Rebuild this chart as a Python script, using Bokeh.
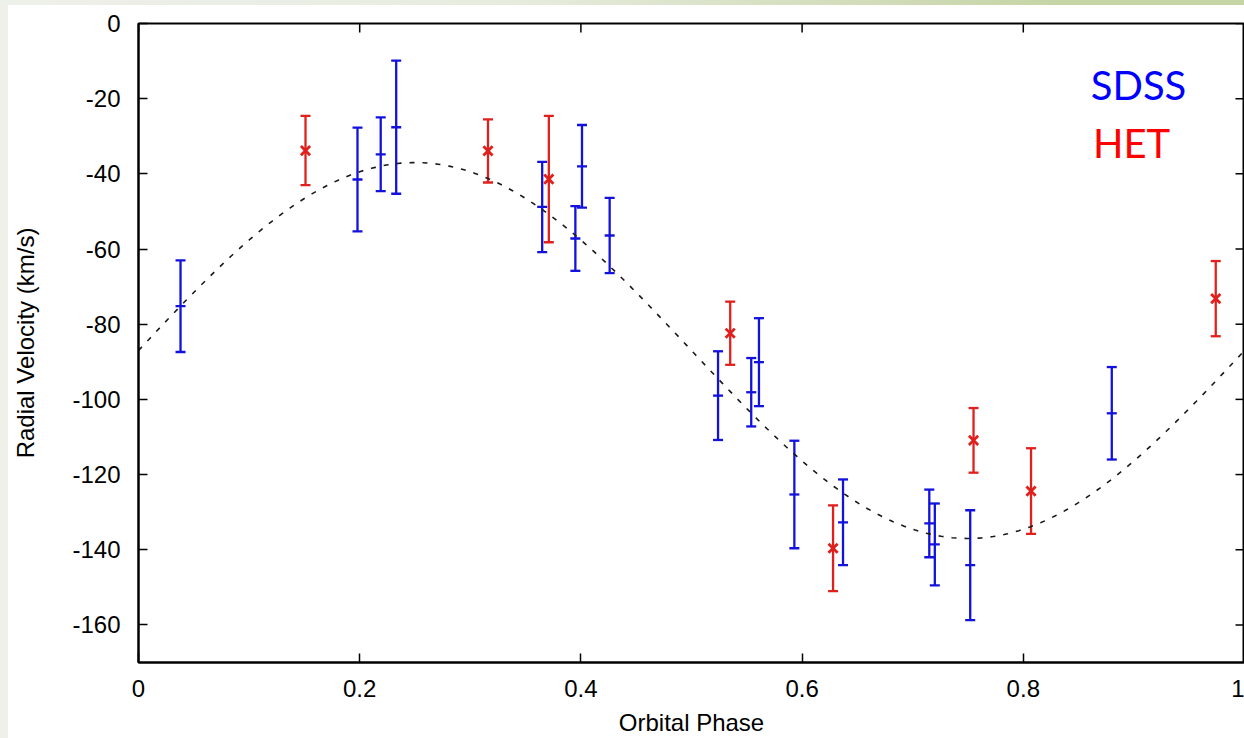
import numpy as np
from bokeh.plotting import figure
from bokeh.models import (ColumnDataSource, Whisker, TeeHead, Range1d, FixedTicker,
                          NumeralTickFormatter, Label, Div)
from bokeh.layouts import column, row
from bokeh.embed import file_html
from bokeh.resources import INLINE

# SDSS radial velocities (orbital phase, km/s, 1-sigma error)
sdss_phase = [0.038, 0.198, 0.219, 0.233, 0.365, 0.395, 0.401, 0.426, 0.524,
              0.554, 0.561, 0.593, 0.637, 0.715, 0.720, 0.752, 0.880]
sdss_rv = [-75.2, -41.5, -34.8, -27.6, -48.8, -57.2, -38.0, -56.4, -99.0,
           -98.1, -90.1, -125.3, -132.7, -133.0, -138.6, -144.1, -103.7]
sdss_err = [12.2, 13.8, 9.8, 17.7, 12.0, 8.6, 11.0, 10.0, 11.8,
            9.1, 11.7, 14.3, 11.4, 9.0, 10.9, 14.6, 12.3]

# HET radial velocities
het_phase = [0.151, 0.316, 0.371, 0.535, 0.628, 0.755, 0.807, 0.974]
het_rv = [-33.8, -33.9, -41.4, -82.4, -139.6, -110.9, -124.4, -73.2]
het_err = [9.2, 8.4, 16.8, 8.4, 11.4, 8.6, 11.4, 10.0]

# Circular-orbit fit: systemic velocity and semi-amplitude (km/s)
gamma = -87.0
k_amp = 50.0

x_ticks = [0, 0.2, 0.4, 0.6, 0.8, 1.0]
y_ticks = [-160, -140, -120, -100, -80, -60, -40, -20, 0]

TICK_FONT = "Liberation Sans"
BLUE = "#1212dc"
RED = "#e0201c"

x_range = Range1d(0, 1)
y_range = Range1d(-170, 0)

p = figure(width=1236, height=733, x_range=x_range, y_range=y_range,
           output_backend="svg", toolbar_location=None,
           min_border_left=130, min_border_right=0, min_border_top=18, min_border_bottom=76)
p.background_fill_color = "white"
p.border_fill_color = "white"
p.outline_line_color = "black"
p.outline_line_width = 2
p.grid.visible = False

for ax in (p.xaxis[0], p.yaxis[0]):
    ax.axis_line_width = 2
    ax.major_tick_in = 9
    ax.major_tick_out = 0
    ax.major_tick_line_width = 1.5
    ax.minor_tick_line_color = None
    ax.major_label_text_font = TICK_FONT
    ax.major_label_text_font_size = "24px"
    ax.major_label_text_color = "black"
    ax.axis_label_text_font = TICK_FONT
    ax.axis_label_text_font_size = "24px"
    ax.axis_label_text_font_style = "normal"
    ax.axis_label_text_color = "black"

p.xaxis.ticker = FixedTicker(ticks=x_ticks)
p.xaxis.formatter = NumeralTickFormatter(format="0.[0]")
p.xaxis.axis_label = "Orbital Phase"
p.xaxis.major_label_standoff = 17
p.xaxis.axis_label_standoff = 9
p.xaxis.axis_label_text_line_height = 0.8

p.yaxis.ticker = FixedTicker(ticks=y_ticks)
p.yaxis.formatter = NumeralTickFormatter(format="0")
p.yaxis.axis_label = "Radial Velocity (km/s)"
p.yaxis.major_label_standoff = 18
p.yaxis.axis_label_standoff = 30

# inward ticks along the top and right edges of the box
p.ray(x=[x_range.end] * len(y_ticks), y=y_ticks, length=9, length_units="screen",
      angle=np.pi, line_color="black", line_width=1.5)
p.ray(x=x_ticks, y=[y_range.end] * len(x_ticks), length=9, length_units="screen",
      angle=-np.pi / 2, line_color="black", line_width=1.5)

# model curve
phase_grid = np.linspace(0, 1, 300)
p.line(phase_grid, gamma + k_amp * np.sin(2 * np.pi * phase_grid),
       line_color="#1a1a1a", line_width=1.6, line_dash="5 8")

sdss = ColumnDataSource(dict(x=sdss_phase, y=sdss_rv,
                             lo=[v - e for v, e in zip(sdss_rv, sdss_err)],
                             hi=[v + e for v, e in zip(sdss_rv, sdss_err)]))
het = ColumnDataSource(dict(x=het_phase, y=het_rv,
                            lo=[v - e for v, e in zip(het_rv, het_err)],
                            hi=[v + e for v, e in zip(het_rv, het_err)]))

for src, col in ((sdss, BLUE), (het, RED)):
    p.add_layout(Whisker(source=src, base="x", lower="lo", upper="hi",
                         line_color=col, line_width=2.3,
                         lower_head=TeeHead(size=10, line_color=col, line_width=2.3),
                         upper_head=TeeHead(size=10, line_color=col, line_width=2.3)))

p.scatter("x", "y", source=sdss, marker="dash", size=10, line_color=BLUE, line_width=2.3)
p.scatter("x", "y", source=het, marker="x", size=13, line_color=RED, line_width=2.8)

p.add_layout(Label(x=0.861, y=-16.3, text="SDSS", text_color="#0000ff",
                   text_font="Lato", text_font_size="40px", text_baseline="alphabetic"))
p.add_layout(Label(x=0.863, y=-31.8, text="HET", text_color="#ff0000",
                   text_font="Lato", text_font_size="40px", text_baseline="alphabetic"))

top_strip = Div(text="", width=1244, height=5, margin=0,
                styles={"background": "linear-gradient(to right, #eef0ea 0%, #e8ecdf 40%, #c6d4a6 85%, #c6d4a6 100%)"})
left_strip = Div(text="", width=8, height=733, margin=0, styles={"background": "#eef0e9"})
layout = column(top_strip, row(left_strip, p, spacing=0), spacing=0)

open("out.html", "w").write(file_html(layout, INLINE))
